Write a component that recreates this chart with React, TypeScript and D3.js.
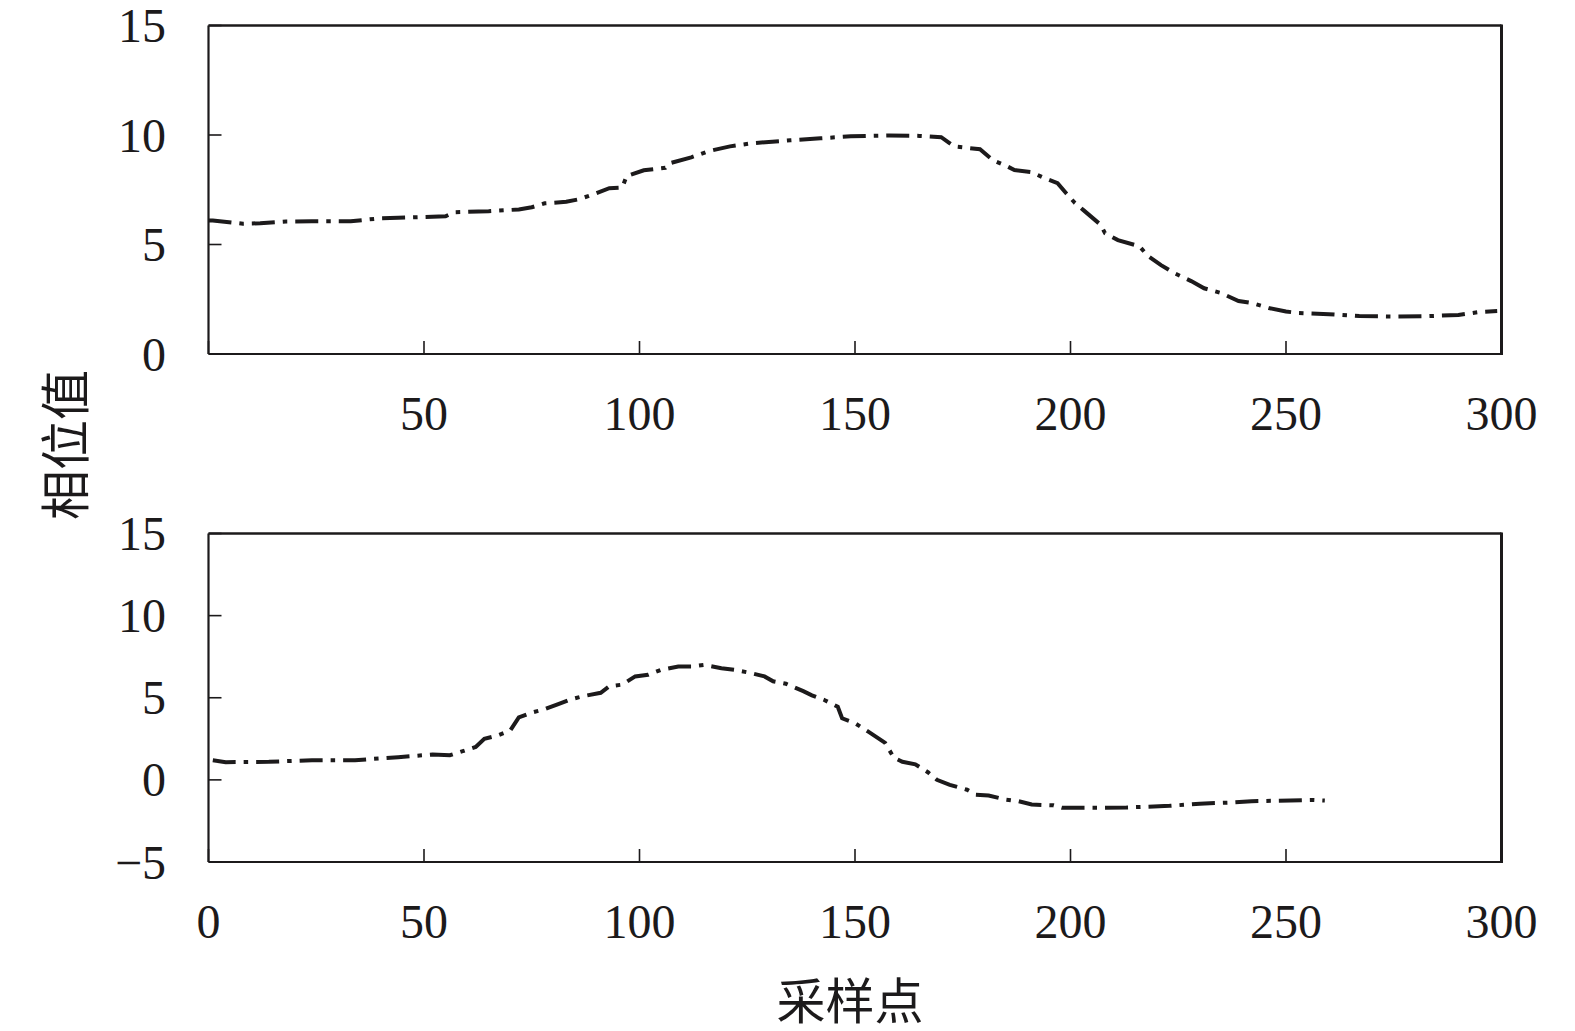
import React from "react";
import * as d3 from "d3";

// ---------- data ----------
const xTicks = [0, 50, 100, 150, 200, 250, 300];
const topYTicks = [0, 5, 10, 15];
const bottomYTicks = [-5, 0, 5, 10, 15];

const topSamples = [
  0, 1, 8, 12, 18, 24, 33, 40, 44, 55, 57, 65, 72, 75, 78, 83, 86, 90, 93, 96, 97, 101, 106, 107, 112, 116,
  121, 126, 135, 142, 149, 158, 165, 170, 173, 179, 182, 185, 187, 191, 194, 197, 199, 201, 203, 207,
  208, 211, 216, 218, 221, 224, 228, 231, 235, 239, 242, 246, 250, 253, 260, 267, 276, 283, 290, 295, 299,
];
const topValues = [
  6.1, 6.1, 5.95, 5.97, 6.05, 6.06, 6.06, 6.2, 6.22, 6.29, 6.47, 6.52, 6.6, 6.7, 6.88, 6.95, 7.07, 7.34, 7.57, 7.6, 8.12, 8.39,
  8.5, 8.71, 8.98, 9.26, 9.48, 9.62, 9.76, 9.85, 9.94, 9.98, 9.96, 9.9, 9.48, 9.35, 8.85, 8.6, 8.4, 8.3,
  8.03, 7.8, 7.34, 6.9, 6.57, 5.9, 5.52, 5.2, 4.92, 4.47, 4.06, 3.7, 3.33, 3.0, 2.78, 2.42, 2.33, 2.1,
  1.94, 1.87, 1.82, 1.73, 1.71, 1.73, 1.78, 1.92, 1.96,
];

const bottomSamples = [
  1, 4, 14, 24, 34, 44, 52, 56, 59, 62, 64, 67, 70, 72, 75, 78, 81, 84, 87, 91, 93, 96, 99, 102, 105,
  109, 112, 115, 119, 122, 125, 129, 131, 134, 138, 140, 143, 146, 147, 150, 153, 155, 157, 159, 161,
  164, 167, 169, 172, 176, 178, 181, 185, 188, 191, 196, 198, 204, 208, 213, 216, 223, 230, 237, 242,
  251, 256, 259,
];
const bottomValues = [
  1.2, 1.08, 1.1, 1.2, 1.2, 1.38, 1.55, 1.5, 1.75, 2.0, 2.5, 2.7, 3.0, 3.8, 4.1, 4.3, 4.6, 4.9, 5.1, 5.3,
  5.7, 5.8, 6.3, 6.4, 6.7, 6.9, 6.9, 7.0, 6.8, 6.7, 6.55, 6.3, 6.0, 5.85, 5.4, 5.15, 4.85, 4.45, 3.75,
  3.45, 2.95, 2.6, 2.25, 1.35, 1.1, 0.95, 0.45, 0.0, -0.3, -0.6, -0.9, -0.95, -1.2, -1.3, -1.5, -1.55,
  -1.7, -1.7, -1.7, -1.68, -1.65, -1.58, -1.45, -1.38, -1.3, -1.25, -1.22, -1.26,
];

const yTitle = "相位值";
const xTitle = "采样点";

// ---------- layout ----------
const W = 1575;
const H = 1031;
const X0 = 208.5;
const X1 = 1501.5;
const INK = "#1c1a1b";
const SERIF = "'Liberation Serif', 'Times New Roman', serif";
const CJK = "'Noto Sans CJK SC', 'Noto Sans CJK JP', sans-serif";

type PanelProps = {
  samples: number[];
  values: number[];
  yDomain: [number, number];
  yTicks: number[];
  top: number;
  bottom: number;
  showZero: boolean;
};

const fmt = (v: number) => (v < 0 ? "\u2212" + Math.abs(v) : String(v));

function Panel({ samples, values, yDomain, yTicks, top, bottom, showZero }: PanelProps) {
  const x = d3.scaleLinear().domain([0, 300]).range([X0, X1]);
  const y = d3.scaleLinear().domain(yDomain).range([bottom, top]);
  const pts: [number, number][] = samples.map((s, i) => [s, values[i]]);
  const line = d3
    .line<[number, number]>()
    .x((d) => x(d[0]))
    .y((d) => y(d[1]))
    .curve(d3.curveLinear);
  const tickLen = 13;
  return (
    <g>
      {/* series */}
      <path
        d={line(pts) || ""}
        fill="none"
        stroke={INK}
        strokeWidth={4}
        strokeDasharray="23 8 4.5 8"
        strokeLinecap="butt"
        strokeLinejoin="miter"
      />
      {/* frame */}
      <line x1={X0} x2={X1} y1={top} y2={top} stroke={INK} strokeWidth={2.4} />
      <line x1={X0} x2={X1} y1={bottom} y2={bottom} stroke={INK} strokeWidth={2} />
      <line x1={X0} x2={X0} y1={top} y2={bottom} stroke={INK} strokeWidth={2.2} />
      <line x1={X1} x2={X1} y1={top - 1} y2={bottom + 1} stroke={INK} strokeWidth={3} />
      {/* y ticks */}
      {yTicks.map((t) => (
        <g key={"y" + t}>
          <line x1={X0} x2={X0 + tickLen} y1={y(t)} y2={y(t)} stroke={INK} strokeWidth={1.6} />
          <text
            x={166}
            y={y(t) + 16.5}
            textAnchor="end"
            fontFamily={SERIF}
            fontSize={48}
            fill={INK}
          >
            {fmt(t)}
          </text>
        </g>
      ))}
      {/* x ticks */}
      {xTicks.map((t) => (
        <g key={"x" + t}>
          <line x1={x(t)} x2={x(t)} y1={bottom} y2={bottom - tickLen} stroke={INK} strokeWidth={1.6} />
          {(t !== 0 || showZero) && (
            <text
              x={x(t)}
              y={bottom + 76}
              textAnchor="middle"
              fontFamily={SERIF}
              fontSize={48}
              fill={INK}
            >
              {t}
            </text>
          )}
        </g>
      ))}
    </g>
  );
}

export default function App() {
  return (
    <svg
      width={W}
      height={H}
      viewBox={`0 0 ${W} ${H}`}
      style={{ position: "absolute", left: 0, top: 0, background: "#fff" }}
    >
      <rect x={0} y={0} width={W} height={H} fill="#fff" />
      <Panel
        samples={topSamples}
        values={topValues}
        yDomain={[0, 15]}
        yTicks={topYTicks}
        top={25.5}
        bottom={354}
        showZero={false}
      />
      <Panel
        samples={bottomSamples}
        values={bottomValues}
        yDomain={[-5, 15]}
        yTicks={bottomYTicks}
        top={533.5}
        bottom={862}
        showZero={true}
      />
      <text
        transform="translate(62,445) rotate(-90)"
        textAnchor="middle"
        dominantBaseline="central"
        fontFamily={CJK}
        fontSize={50}
        fill={INK}
      >
        {yTitle}
      </text>
      <text
        x={850}
        y={997}
        textAnchor="middle"
        dominantBaseline="central"
        fontFamily={CJK}
        fontSize={49}
        fill={INK}
      >
        {xTitle}
      </text>
    </svg>
  );
}
